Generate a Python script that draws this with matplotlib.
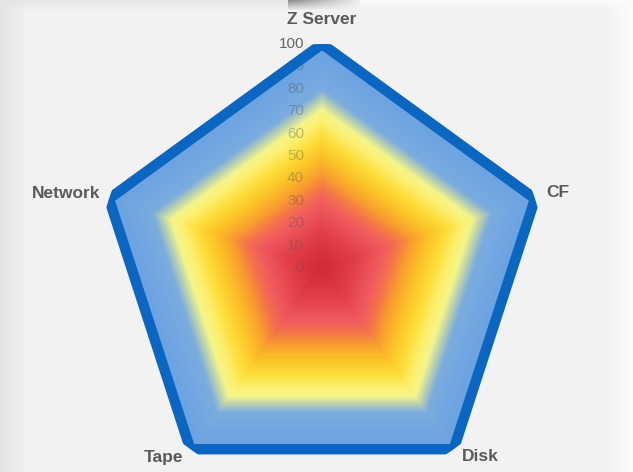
import numpy as np
import matplotlib
matplotlib.use("Agg")
import matplotlib.pyplot as plt
from matplotlib.colors import LinearSegmentedColormap

# ---- data ----
categories = ["Z Server", "CF", "Disk", "Tape", "Network"]
values = [100, 100, 100, 100, 100]
r_ticks = [0, 10, 20, 30, 40, 50, 60, 70, 80, 90, 100]

# ---- style / layout ----
W, H = 633, 472
CX, CY, R = 322, 268, 224          # pixel centre and radius of the radar
label_offsets = [(0, 25), (11, 6), (8, -7), (-7, -8), (-9, 5)]
label_align = ["center", "left", "left", "right", "right"]

grad_stops = [
    (0.00, (208, 42, 52)),
    (0.15, (224, 60, 70)),
    (0.29, (240, 90, 95)),
    (0.35, (243, 112, 78)),
    (0.43, (248, 160, 45)),
    (0.51, (251, 196, 40)),
    (0.59, (252, 222, 58)),
    (0.66, (252, 240, 112)),
    (0.71, (245, 245, 140)),
    (0.75, (190, 212, 175)),
    (0.80, (124, 172, 222)),
    (0.90, (112, 166, 225)),
    (1.00, (106, 162, 224)),
]
cmap = LinearSegmentedColormap.from_list(
    "radar", [(p, tuple(c / 255 for c in col)) for p, col in grad_stops], N=512)

plt.rcParams["font.family"] = ["Liberation Sans", "DejaVu Sans"]

fig = plt.figure(figsize=(W / 100, H / 100), dpi=100)
fig.patch.set_facecolor("#f2f2f2")

# screenshot-like background (soft edges)
bg = np.full((H, W), 242.0)
xs = np.arange(W)
ys = np.arange(H)
left = xs < 24
bg[:, left] = (228 + 12 * xs[left] / 24)[None, :]
right = xs > 606
bg[:, right] = (242 + 11 * (xs[right] - 606) / 27)[None, :]
for y in range(10):
    f = 1 - y / 10
    for x in range(W):
        if x < 288:
            top = 230
        elif x < 360:
            top = 140 + 100 * (x - 288) / 72
        else:
            top = 251
        bg[y, x] = bg[y, x] * (1 - f) + top * f
bgax = fig.add_axes([0, 0, 1, 1], zorder=-1)
bgax.imshow(np.dstack([bg, bg, bg]) / 255, aspect="auto", interpolation="bilinear")
bgax.axis("off")

ax = fig.add_axes([(CX - R) / W, (H - CY - R) / H, 2 * R / W, 2 * R / H],
                  projection="polar")
ax.set_facecolor("none")
ax.set_theta_offset(np.pi / 2)
ax.set_theta_direction(-1)
ax.set_ylim(0, 100)
ax.grid(False)
ax.spines["polar"].set_visible(False)
ax.set_xticks([])
ax.set_yticks([])

n = len(categories)
theta = np.linspace(0, 2 * np.pi, n, endpoint=False)
th = np.append(theta, theta[0])
vals = np.array(values + [values[0]], dtype=float)

# gradient fill: nested polygons scaled from the data
for lv in np.linspace(1.0, 0.0, 260):
    ax.fill(th, vals * lv, color=cmap(lv), lw=0, zorder=2)

# radial value labels (seen through the fill)
for v in r_ticks:
    ax.annotate(str(v), xy=(0, v), xytext=(-18, 0), textcoords="offset pixels",
                ha="right", va="center", fontsize=11, color="#555555",
                alpha=0.38 if v < 100 else 0.9, zorder=3, annotation_clip=False)

# outline
ax.plot(th, vals, color="#0b66c2", lw=7.5, solid_joinstyle="round",
        solid_capstyle="round", zorder=5)

# category labels
for i, cat in enumerate(categories):
    ax.annotate(cat, xy=(theta[i], values[i]), xytext=label_offsets[i],
                textcoords="offset pixels", ha=label_align[i], va="center",
                fontsize=12.5, fontweight="bold", color="#5a5a5a",
                annotation_clip=False, zorder=6)

fig.savefig("out.png", dpi=100, facecolor=fig.get_facecolor())
